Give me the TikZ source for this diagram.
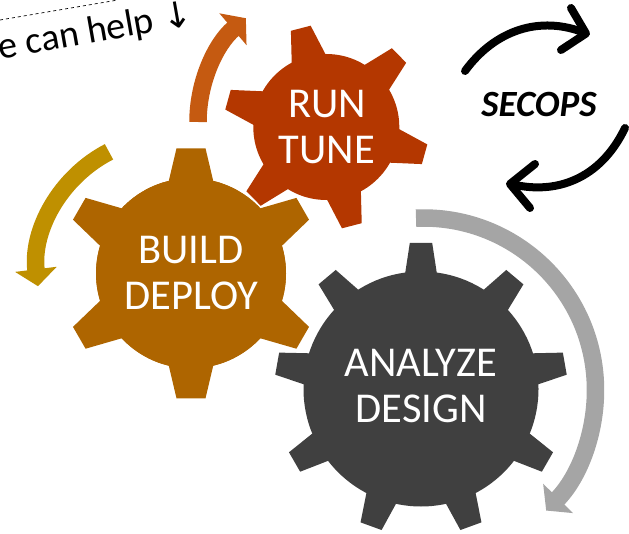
\documentclass[tikz,border=0pt]{standalone}
\usepackage{xcolor}
\usepackage{fontspec}
\setmainfont{Carlito}
\newfontfamily\arrowfont{DejaVu Sans}
\usepackage{tikz}
\usetikzlibrary{arrows.meta}

\begin{document}
\begin{tikzpicture}[
    x=1pt, y=1pt,
    gearlabel/.style={font=\fontsize{42.5}{46.5}\selectfont, text=white, align=center, inner sep=0pt},
    bigarrow/.style={line width=17.5pt, -{Triangle[length=17pt, width=41pt]}},
    cyclearrow/.style={black, line width=8pt, line cap=round, line join=round},
]

% ── Colors ──
\definecolor{analyzefill}{HTML}{404040}
\definecolor{buildfill}{HTML}{AE6500}
\definecolor{runfill}{HTML}{B43700}
\definecolor{analyzearrow}{HTML}{A5A5A5}
\definecolor{buildarrow}{HTML}{BF9000}
\definecolor{runarrow}{HTML}{C55A11}

\useasboundingbox (0,0) rectangle (629,533);

% ── Gear centres ──
\coordinate (analyze) at (421,144);
\coordinate (build) at (191,259.7);
\coordinate (run) at (326.3,406);

% ── Gears: body circle, then one tooth per angle ──
\foreach \center/\col/\rbody/\rbase/\rtip/\wbase/\wtip/\angles in {
    analyze/analyzefill/117.5/116/146/15.8/11.2/{90,130,...,410},
    build/buildfill/95/87/125/23.5/14.5/{90,270},
    build/buildfill/95/91/129/22/12.6/{30,150,210,330},
    run/runfill/73/70/102/17.6/10.2/{104.5,164.5,224.5,284.5,344.5,404.5}} {
    \fill[\col] (\center) circle[radius=\rbody pt];
    \foreach \a in \angles {
        \fill[\col, shift={(\center)}, rotate=\a]
            (\rbase,-\wbase) -- (\rtip,-\wtip) -- (\rtip,\wtip) -- (\rbase,\wbase) -- cycle;
    }
}

% ── Gear labels ──
\node[gearlabel] (analyzetext) at (421,147) {ANALYZE\\DESIGN};
\node[gearlabel] (buildtext) at (191,260) {BUILD\\DEPLOY};
\node[gearlabel] (runtext) at (327,406) {RUN\\TUNE};

% ── Block arrows round the gears ──
\draw[bigarrow, analyzearrow] (423.5,143) ++(92.5:172pt) arc[start angle=92.5, end angle=-44.5, radius=172pt];
\draw[bigarrow, buildarrow] (170,263) ++(117.3:133pt) arc[start angle=117.3, end angle=187, radius=133pt];
\draw[bigarrow, runarrow] (334.5,411) ++(180:136.5pt) arc[start angle=180, end angle=130.5, radius=136.5pt];

% ── SECOPS cycle ──
\node[font=\fontsize{37}{40}\selectfont\bfseries\itshape, text=black, inner sep=0pt] (secops) at (539,429) {SECOPS};
\draw[cyclearrow] (465,462) .. controls (495,503) and (540,518) .. (585,500);
\draw[cyclearrow] (571,525) -- (586,499.5) -- (561,483);
\draw[cyclearrow] (625,405) .. controls (600,353) and (555,338) .. (511,349);
\draw[cyclearrow] (535,369) -- (510,349) -- (530,325);

% ── Corner note ──
\draw[black, dashed, line width=0.7pt] (0,513) -- (118,533);
\node[font=\fontsize{38}{40}\selectfont, text=black, inner sep=0pt, rotate=10, anchor=base east] (helpnote)
    at (194,508) {we can help {\arrowfont\fontsize{36}{40}\selectfont↓}};

\end{tikzpicture}
\end{document}
